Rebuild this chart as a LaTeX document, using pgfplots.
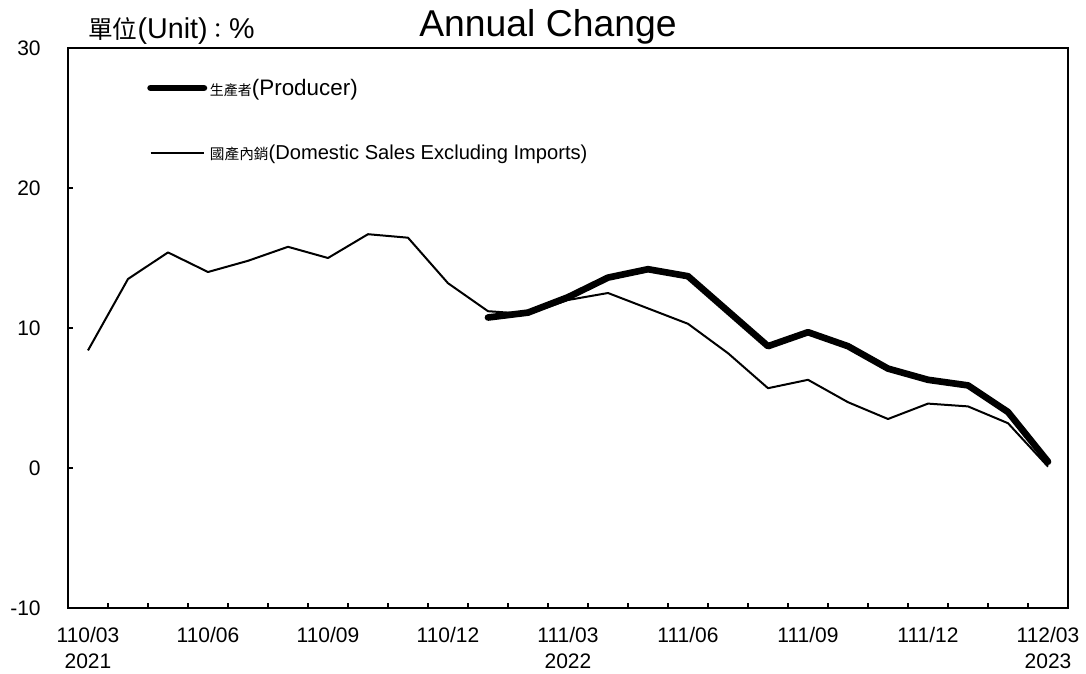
\documentclass[border=0pt]{standalone}
\usepackage{fontspec}
\setmainfont{Liberation Sans}
\newfontfamily\cjk{Noto Sans CJK TC}
\usepackage{pgfplots}
\pgfplotsset{compat=1.18}

\begin{document}
\begin{tikzpicture}
\begin{axis}[
    width=750pt, height=420pt, scale only axis,
    xmin=-0.5, xmax=24.5,
    ymin=-10, ymax=30,
    axis line style={line width=1.5pt},
    xtick={0,3,...,24},
    xticklabels={110/03\\2021,110/06,110/09,110/12,111/03\\2022,111/06,111/09,111/12,112/03\\2023},
    x tick label style={align=center, font=\fontsize{15.75}{19.5}\selectfont, yshift=-11pt},
    major x tick style={draw=none},
    minor xtick={0.5,1.5,...,23.5},
    ytick={-10,0,10,20,30},
    yticklabels={-10,0,10,20,30},
    y tick label style={font=\fontsize{15.75}{18.9}\selectfont, xshift=-17pt},
    tick align=inside,
    major tick length=4pt, minor tick length=4pt,
    tick style={black, line width=0.8pt},
    xtick pos=bottom, ytick pos=left,
    legend style={at={(0.075,0.955)}, anchor=north west, draw=none, fill=none,
        font=\fontsize{16.8}{20}\selectfont, row sep=32pt,
        /tikz/every even column/.append style={column sep=0pt}},
    legend cell align=left,
    legend image code/.code={\draw[#1] (0pt,0pt) -- (40pt,0pt);},
    clip=false,
]
\addplot[black, line width=5pt, line cap=round, line join=round] coordinates {
    (10,10.75)(11,11.1)(12,12.2)(13,13.6)(14,14.2)(15,13.7)(16,11.2)(17,8.7)
    (18,9.7)(19,8.7)(20,7.1)(21,6.3)(22,5.9)(23,4.0)(24,0.45)
};
\addlegendentry{{\cjk\fontsize{10.5}{12}\selectfont 生產者}(Producer)}
\addplot[black, line width=1.5pt, line join=round] coordinates {
    (0,8.4)(1,13.5)(2,15.4)(3,14.0)(4,14.8)(5,15.8)(6,15.0)(7,16.7)(8,16.45)
    (9,13.2)(10,11.2)(11,11.0)(12,12.0)(13,12.5)(14,11.4)(15,10.3)(16,8.2)
    (17,5.7)(18,6.3)(19,4.7)(20,3.5)(21,4.6)(22,4.4)(23,3.2)(24,0.1)
};
\addlegendentry{{\cjk\fontsize{11}{12}\selectfont 國產內銷}{\fontsize{15.1}{18}\selectfont(Domestic Sales Excluding Imports)}}
\node[anchor=west, font=\fontsize{21.5}{24}\selectfont, inner sep=0pt] at (rel axis cs:0.02,1) [yshift=13pt]
    {{\cjk\fontsize{18.5}{20}\selectfont 單位}(Unit){\cjk\fontsize{16}{20}\selectfont ：}\%};
\node[font=\fontsize{28}{32}\selectfont, inner sep=0pt] at (rel axis cs:0.48,1) [yshift=15.5pt] {Annual Change};
\end{axis}
\path (-51pt,-48.75pt) rectangle (763.5pt,456pt);
\end{tikzpicture}
\end{document}
